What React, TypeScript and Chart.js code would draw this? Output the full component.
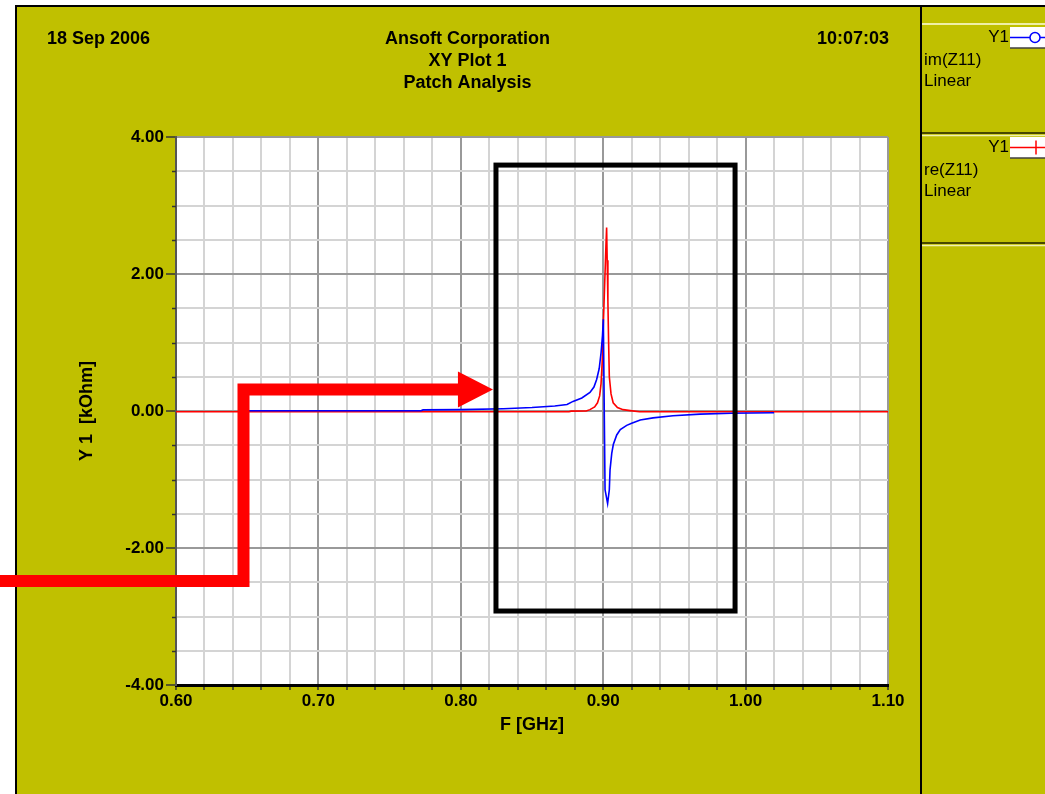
import React, { useEffect, useRef } from 'react';
import { Chart, registerables } from 'chart.js';

Chart.register(...registerables);

// ---- data (GHz, kOhm) ----
const imFreq = [
  0.65, 0.772, 0.7735, 0.8, 0.83, 0.85, 0.866, 0.8746, 0.8788, 0.885, 0.8907, 0.8935, 0.8954,
  0.8972, 0.8985, 0.8995, 0.9001, 0.9013, 0.9031, 0.9043, 0.9048, 0.906, 0.9071, 0.9095, 0.912,
  0.9165, 0.92, 0.926, 0.935, 0.949, 0.968, 0.99, 1.02,
];
const imVal = [
  0.004, 0.004, 0.016, 0.02, 0.033, 0.05, 0.072, 0.095, 0.14, 0.19, 0.27, 0.35, 0.46,
  0.62, 0.85, 1.1, 1.34, -1.15, -1.35, -1.15, -0.86, -0.62, -0.49, -0.35, -0.27,
  -0.21, -0.18, -0.13, -0.1, -0.07, -0.045, -0.033, -0.025,
];
const reFreq = [
  0.6, 0.876, 0.8775, 0.888, 0.8907, 0.894, 0.896, 0.8975, 0.8985, 0.8995, 0.9, 0.9019, 0.9024,
  0.9028, 0.9033, 0.9038, 0.9043, 0.9055, 0.907, 0.91, 0.914, 0.919, 0.9255, 1.1,
];
const reVal = [
  -0.012, -0.012, -0.002, 0.0, 0.02, 0.06, 0.12, 0.22, 0.4, 0.8, 1.2, 2.4, 2.68,
  2.2, 1.6, 1.0, 0.5, 0.25, 0.12, 0.05, 0.02, 0.005, -0.012, -0.012,
];

const xMajorTicks = [0.6, 0.7, 0.8, 0.9, 1.0, 1.1];
const yMajorTicks = [-4, -2, 0, 2, 4];

// annotation (in data units)
const highlightX = [0.8247, 0.9926];
const highlightY = [-2.92, 3.59];
const arrowX = [0.6474, 0.798, 0.8226];
const arrowY = [-2.48, 0.314];

const headerLeft = '18 Sep 2006';
const headerTitle = ['Ansoft Corporation', 'XY Plot 1', 'Patch Analysis'];
const headerRight = '10:07:03';
const legendItems = [
  { name: 'im(Z11)', axis: 'Y1', scale: 'Linear', color: '#0000FF', marker: 'circle' },
  { name: 're(Z11)', axis: 'Y1', scale: 'Linear', color: '#FF0000', marker: 'cross' },
];

const OLIVE = '#C0C000';
const FONT = "'Liberation Sans', Arial, sans-serif";

const isMajor = (v: number, majors: number[]) => majors.some((m) => Math.abs(m - v) < 1e-6);

const decorPlugin = {
  id: 'decor',
  beforeDraw(chart: any) {
    const { ctx, width, height, chartArea } = chart;
    ctx.save();
    ctx.fillStyle = '#FFFFFF';
    ctx.fillRect(0, 0, width, height);
    ctx.fillStyle = OLIVE;
    ctx.fillRect(15, 5, width - 15, height - 5);
    // frame
    ctx.strokeStyle = '#000';
    ctx.lineWidth = 2;
    ctx.beginPath();
    ctx.moveTo(16, height);
    ctx.lineTo(16, 6);
    ctx.lineTo(width, 6);
    ctx.moveTo(921, 6);
    ctx.lineTo(921, height);
    ctx.stroke();
    // legend panel separators
    const hl = (y: number, c: string) => {
      ctx.strokeStyle = c;
      ctx.lineWidth = 1.5;
      ctx.beginPath();
      ctx.moveTo(922, y);
      ctx.lineTo(width, y);
      ctx.stroke();
    };
    hl(24, '#FFFFE0');
    hl(133, '#202000');
    hl(135.5, '#F0F0B0');
    hl(243, '#202000');
    hl(245.5, '#F0F0B0');
    // plot area
    ctx.fillStyle = '#FFFFFF';
    ctx.fillRect(chartArea.left, chartArea.top, chartArea.right - chartArea.left, chartArea.bottom - chartArea.top);
    ctx.restore();
  },
  afterDraw(chart: any) {
    const { ctx, scales } = chart;
    const xs = scales.x;
    const ys = scales.y;
    ctx.save();
    // minor y ticks
    ctx.strokeStyle = '#333';
    ctx.lineWidth = 1.5;
    ys.ticks.forEach((t: any) => {
      if (isMajor(t.value, yMajorTicks)) return;
      const py = Math.round(ys.getPixelForValue(t.value)) + 0.5;
      ctx.beginPath();
      ctx.moveTo(xs.left - 4, py);
      ctx.lineTo(xs.left, py);
      ctx.stroke();
    });

    // header text
    ctx.fillStyle = '#000';
    ctx.textBaseline = 'middle';
    ctx.font = `bold 18px ${FONT}`;
    ctx.textAlign = 'left';
    ctx.fillText(headerLeft, 47, 39);
    ctx.textAlign = 'center';
    headerTitle.forEach((t, i) => ctx.fillText(t, 467.5, 39 + i * 22));
    ctx.textAlign = 'right';
    ctx.fillText(headerRight, 889, 39);

    // axis titles
    ctx.textAlign = 'center';
    ctx.fillText('F [GHz]', (xs.left + xs.right) / 2, 725);
    ctx.save();
    ctx.translate(87, (ys.top + ys.bottom) / 2);
    ctx.rotate(-Math.PI / 2);
    ctx.fillText('Y 1  [kOhm]', 0, 0);
    ctx.restore();

    // legend
    legendItems.forEach((it, i) => {
      const top = 27 + i * 110;
      ctx.fillStyle = '#FFFFFF';
      ctx.fillRect(1010, top, 35, 21);
      ctx.strokeStyle = '#404040';
      ctx.lineWidth = 1.5;
      ctx.beginPath();
      ctx.moveTo(1010, top + 21);
      ctx.lineTo(1045, top + 21);
      ctx.stroke();
      const ly = top + 10.5;
      ctx.strokeStyle = it.color;
      ctx.lineWidth = 1.5;
      ctx.beginPath();
      ctx.moveTo(1010, ly);
      ctx.lineTo(1045, ly);
      ctx.stroke();
      if (it.marker === 'circle') {
        ctx.fillStyle = '#FFFFFF';
        ctx.beginPath();
        ctx.arc(1035, ly, 5, 0, Math.PI * 2);
        ctx.fill();
        ctx.stroke();
      } else {
        ctx.beginPath();
        ctx.moveTo(1036, ly - 7);
        ctx.lineTo(1036, ly + 7);
        ctx.stroke();
      }
      ctx.fillStyle = '#000';
      ctx.font = `17px ${FONT}`;
      ctx.textAlign = 'right';
      ctx.fillText(it.axis, 1009, ly);
      ctx.textAlign = 'left';
      ctx.fillText(it.name, 924, ly + 23);
      ctx.fillText(it.scale, 924, ly + 44);
    });

    // highlight rectangle
    const rx0 = xs.getPixelForValue(highlightX[0]);
    const rx1 = xs.getPixelForValue(highlightX[1]);
    const ry0 = ys.getPixelForValue(highlightY[1]);
    const ry1 = ys.getPixelForValue(highlightY[0]);
    ctx.strokeStyle = '#000';
    ctx.lineWidth = 5;
    ctx.lineJoin = 'miter';
    ctx.strokeRect(rx0, ry0, rx1 - rx0, ry1 - ry0);

    // red arrow
    const ax = xs.getPixelForValue(arrowX[0]);
    const ab = xs.getPixelForValue(arrowX[1]);
    const at = xs.getPixelForValue(arrowX[2]);
    const ay0 = ys.getPixelForValue(arrowY[0]);
    const ay1 = ys.getPixelForValue(arrowY[1]);
    ctx.strokeStyle = '#FF0000';
    ctx.fillStyle = '#FF0000';
    ctx.lineWidth = 12;
    ctx.beginPath();
    ctx.moveTo(0, ay0);
    ctx.lineTo(ax, ay0);
    ctx.lineTo(ax, ay1);
    ctx.lineTo(ab + 2, ay1);
    ctx.stroke();
    ctx.beginPath();
    ctx.moveTo(ab, ay1 - 18);
    ctx.lineTo(at, ay1);
    ctx.lineTo(ab, ay1 + 18);
    ctx.closePath();
    ctx.fill();
    ctx.restore();
  },
};

export default function App() {
  const ref = useRef<HTMLCanvasElement | null>(null);
  useEffect(() => {
    document.body.style.margin = '0';
    const canvas = ref.current!;
    const imData = imFreq.map((f, i) => ({ x: f, y: imVal[i] }));
    const reData = reFreq.map((f, i) => ({ x: f, y: reVal[i] }));
    const chart = new Chart(canvas, {
      type: 'line',
      data: {
        datasets: [
          { label: 'im(Z11)', data: imData, borderColor: '#0000FF', borderWidth: 1.6, pointRadius: 0, tension: 0, fill: false },
          { label: 're(Z11)', data: reData, borderColor: '#FF0000', borderWidth: 1.6, pointRadius: 0, tension: 0, fill: false },
        ],
      },
      options: {
        responsive: false,
        animation: false,
        devicePixelRatio: 1,
        layout: { padding: { top: 137, bottom: 0, left: 0, right: 157 } },
        plugins: { legend: { display: false }, tooltip: { enabled: false }, title: { display: false } },
        scales: {
          x: {
            type: 'linear',
            min: 0.6,
            max: 1.1,
            afterFit: (s: any) => { s.height = 109; },
            ticks: {
              stepSize: 0.02,
              autoSkip: false,
              maxRotation: 0,
              minRotation: 0,
              padding: 1,
              color: '#000',
              font: { family: FONT, size: 17, weight: 'bold' },
              callback: (v: any) => (isMajor(Number(v), xMajorTicks) ? Number(v).toFixed(2) : ''),
            },
            grid: {
              color: (c: any) => (c.tick && isMajor(c.tick.value, xMajorTicks) ? '#999999' : '#d4d4d4'),
              lineWidth: 2,
              tickLength: 5,
              tickColor: '#333',
              tickWidth: 1.5,
            },
            border: { color: '#000', width: 3 },
          },
          y: {
            type: 'linear',
            min: -4,
            max: 4,
            afterFit: (s: any) => { s.width = 176; },
            ticks: {
              stepSize: 0.5,
              autoSkip: false,
              padding: 2,
              color: '#000',
              font: { family: FONT, size: 17, weight: 'bold' },
              callback: (v: any) => (isMajor(Number(v), yMajorTicks) ? Number(v).toFixed(2) : ''),
            },
            grid: {
              color: (c: any) => (c.tick && isMajor(c.tick.value, yMajorTicks) ? '#999999' : '#d4d4d4'),
              lineWidth: 2,
              tickLength: 10,
              tickColor: (c: any) => (c.tick && isMajor(c.tick.value, yMajorTicks) ? '#333' : 'rgba(0,0,0,0)'),
              tickWidth: 1.5,
            },
            border: { color: '#555', width: 2 },
          },
        },
      },
      plugins: [decorPlugin],
    } as any);
    return () => chart.destroy();
  }, []);
  return <canvas ref={ref} width={1045} height={794} style={{ display: 'block' }} />;
}
